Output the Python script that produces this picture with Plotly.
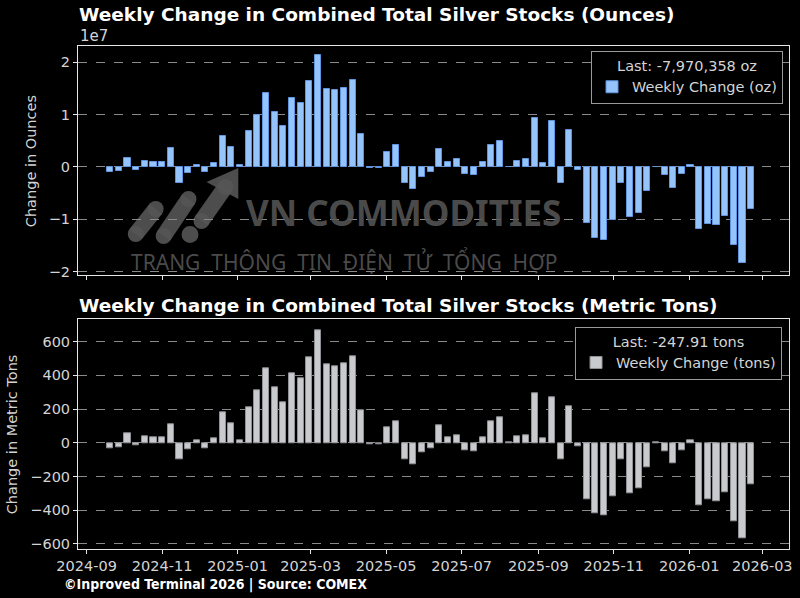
import plotly.graph_objects as go
import pandas as pd

# ---------------- data ----------------
start_week = "2024-09-20"
weekly_change_tons = [
    -31, -25, 55, -16, 37, 31, 31, 110, -98, -37,
    14, -31, 25, 182, 116, 14, 212, 310, 441, 327,
    243, 412, 382, 508, 666, 465, 455, 472, 515, 196,
    -6, -6, 92, 129, -98, -129, -57, -31, 104, 31,
    45, -43, -49, 31, 129, 153, 2, 37, 45, 292,
    25, 272, -98, 218, -18, -333, -421, -431, -316, -96,
    -298, -272, -145, 2, -49, -122, -43, 14, -370, -337,
    -347, -292, -466, -568, -247.91,
]
TROY_OZ_PER_TONNE = 32150.7466
weekly_change_oz = [v * TROY_OZ_PER_TONNE for v in weekly_change_tons]
weekly_change_oz[-1] = -7970358
weeks = pd.date_range(start_week, periods=len(weekly_change_tons), freq="7D")

last_oz_label = "Last: -7,970,358 oz"
last_tons_label = "Last: -247.91 tons"

x_tick_vals = ["2024-09-01", "2024-11-01", "2025-01-01", "2025-03-01", "2025-05-01",
               "2025-07-01", "2025-09-01", "2025-11-01", "2026-01-01", "2026-03-01"]
x_tick_text = ["2024-09", "2024-11", "2025-01", "2025-03", "2025-05",
               "2025-07", "2025-09", "2025-11", "2026-01", "2026-03"]
oz_tick_vals = [-2e7, -1e7, 0, 1e7, 2e7]
oz_tick_text = ["\u22122", "\u22121", "0", "1", "2"]
ton_tick_vals = [-600, -400, -200, 0, 200, 400, 600]
ton_tick_text = ["\u2212600", "\u2212400", "\u2212200", "0", "200", "400", "600"]

# ---------------- layout geometry ----------------
W, H = 800, 598
ML, MR, MT, MB = 78, 8, 46, 49
PW, PH = W - ML - MR, H - MT - MB


def px(x):
    return (x - ML) / PW


def py(y):
    return 1 - (y - MT) / PH


FONT = "DejaVu Sans"
TXT = "#d4d4d4"
BAR_WIDTH_MS = 4.9 * 86400000

fig = go.Figure()
fig.add_trace(go.Bar(
    x=weeks, y=weekly_change_oz, width=BAR_WIDTH_MS,
    marker=dict(color="#94c4fb", line=dict(color="#5f95e0", width=1)),
    name="Weekly Change (oz)", xaxis="x", yaxis="y", legend="legend",
))
fig.add_trace(go.Bar(
    x=weeks, y=weekly_change_tons, width=BAR_WIDTH_MS,
    marker=dict(color="#c9cace", line=dict(color="#8f9096", width=1)),
    name="Weekly Change (tons)", xaxis="x2", yaxis="y2", legend="legend2",
))

xr = ["2024-08-25", "2026-03-22 14:00"]
axis_common = dict(
    showline=True, linecolor="#e6e6e6", linewidth=1, mirror=True,
    ticks="outside", ticklen=4, tickcolor="#e6e6e6",
    tickfont=dict(family=FONT, size=14.5, color=TXT), zeroline=False,
)
top_y0 = py(275)
bot_y1 = py(319.3)
LEG_FONT = dict(family=FONT, size=14.5, color=TXT)
fig.update_layout(
    width=W, height=H,
    paper_bgcolor="black", plot_bgcolor="black",
    margin=dict(l=ML, r=MR, t=MT, b=MB),
    showlegend=True, bargap=0,
    xaxis=dict(domain=[0, 1], anchor="y", range=xr, type="date",
               tickvals=x_tick_vals, ticktext=x_tick_text, showticklabels=False,
               showgrid=False, **axis_common),
    yaxis=dict(domain=[top_y0, 1], anchor="x", range=[-2.063e7, 2.311e7],
               tickvals=oz_tick_vals, ticktext=oz_tick_text,
               showgrid=True, gridcolor="#8a8a8a", griddash="dash", gridwidth=1,
               **axis_common),
    xaxis2=dict(domain=[0, 1], anchor="y2", range=xr, type="date",
                tickvals=x_tick_vals, ticktext=x_tick_text,
                showgrid=False, **axis_common),
    yaxis2=dict(domain=[0, bot_y1], anchor="x2", range=[-630, 733],
                tickvals=ton_tick_vals, ticktext=ton_tick_text,
                showgrid=True, gridcolor="#8a8a8a", griddash="dash", gridwidth=1,
                **axis_common),
    legend=dict(x=px(786), y=py(51), xanchor="right", yanchor="top",
                bgcolor="black", bordercolor="#9a9a9a", borderwidth=1,
                font=LEG_FONT, itemwidth=30,
                title=dict(text=last_oz_label, side="top center", font=LEG_FONT)),
    legend2=dict(x=px(785), y=py(326.7), xanchor="right", yanchor="top",
                 bgcolor="black", bordercolor="#9a9a9a", borderwidth=1,
                 font=LEG_FONT, itemwidth=30,
                 title=dict(text=last_tons_label, side="top center", font=LEG_FONT)),
)

# ---------------- watermark (logo) ----------------
WM = "rgba(85,85,85,0.9)"


def stroke(x0, y0, x1, y1, w):
    fig.add_shape(type="line", xref="paper", yref="paper",
                  x0=px(x0), y0=py(y0), x1=px(x1), y1=py(y1),
                  line=dict(color=WM, width=w), layer="below")
    for (cx, cy) in [(x0, y0), (x1, y1)]:
        r = w / 2
        fig.add_shape(type="circle", xref="paper", yref="paper",
                      x0=px(cx - r), x1=px(cx + r), y0=py(cy + r), y1=py(cy - r),
                      fillcolor=WM, line=dict(width=0), layer="below")


stroke(136, 234, 156, 209, 16)
stroke(164, 236, 189, 199, 16)
stroke(202, 221, 226, 187, 16)
fig.add_shape(type="circle", xref="paper", yref="paper",
              x0=px(182), x1=px(199), y0=py(243), y1=py(226),
              fillcolor=WM, line=dict(width=0), layer="below")
fig.add_shape(type="path", xref="paper", yref="paper",
              path=f"M {px(239)},{py(168)} L {px(207)},{py(182)} L {px(239)},{py(199)} Z",
              fillcolor=WM, line=dict(width=0), layer="below")

# ---------------- texts ----------------
ann = [
    dict(text="<b>Weekly Change in Combined Total Silver Stocks (Ounces)</b>",
         x=px(77), y=py(14), xanchor="left", yanchor="middle",
         font=dict(family=FONT, size=18.5, color="white")),
    dict(text="<b>Weekly Change in Combined Total Silver Stocks (Metric Tons)</b>",
         x=px(77), y=py(305), xanchor="left", yanchor="middle",
         font=dict(family=FONT, size=18.5, color="white")),
    dict(text="1e7", x=px(78), y=py(36), xanchor="left", yanchor="middle",
         font=dict(family=FONT, size=15, color=TXT)),
    dict(text="Change in Ounces", x=px(31), y=py(161), textangle=-90,
         xanchor="center", yanchor="middle",
         font=dict(family=FONT, size=14.5, color=TXT)),
    dict(text="Change in Metric Tons", x=px(12), y=py(434), textangle=-90,
         xanchor="center", yanchor="middle",
         font=dict(family=FONT, size=14.5, color=TXT)),
    dict(text="<b>\u00a9Inproved Terminal 2026 | Source: COMEX</b>",
         x=px(62), y=py(584), xanchor="left", yanchor="middle",
         font=dict(family="DejaVu Sans Condensed, DejaVu Sans", size=14, color="white")),
    dict(text="<b>VN COMMODITIES</b>", x=px(405), y=py(212),
         xanchor="center", yanchor="middle",
         font=dict(family="Noto Sans", size=35, color=WM)),
    dict(text="TRANG  THÔNG  TIN  ĐIỆN  TỬ  TỔNG  HỢP", x=px(345), y=py(261),
         xanchor="center", yanchor="middle",
         font=dict(family="Noto Sans", size=21, color=WM)),
]
for a in ann:
    a.update(xref="paper", yref="paper", showarrow=False)
    fig.add_annotation(**a)

fig.write_html("out.html")
